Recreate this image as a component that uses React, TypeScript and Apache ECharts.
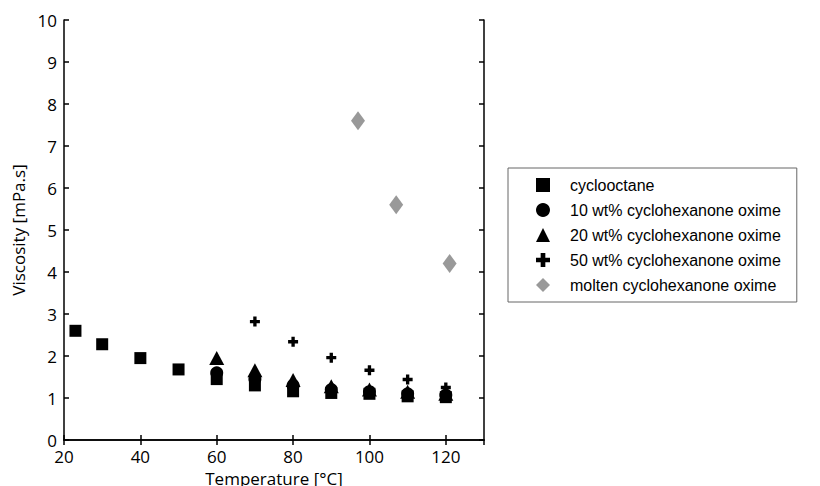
import React, { useEffect, useRef } from "react";
import * as echarts from "echarts";

const seriesNames = [
  "cyclooctane",
  "10 wt% cyclohexanone oxime",
  "20 wt% cyclohexanone oxime",
  "50 wt% cyclohexanone oxime",
  "molten cyclohexanone oxime",
];

const cyclooctane: [number, number][] = [
  [23, 2.6], [30, 2.28], [40, 1.95], [50, 1.68], [60, 1.45], [70, 1.3],
  [80, 1.16], [90, 1.12], [100, 1.1], [110, 1.04], [120, 1.02],
];
const wt10: [number, number][] = [
  [60, 1.6], [70, 1.45], [80, 1.3], [90, 1.2], [100, 1.15], [110, 1.1], [120, 1.07],
];
const wt20: [number, number][] = [
  [60, 1.95], [70, 1.66], [80, 1.43], [90, 1.28], [100, 1.2], [110, 1.15], [120, 1.1],
];
const wt50: [number, number][] = [
  [70, 2.82], [80, 2.34], [90, 1.96], [100, 1.66], [110, 1.44], [120, 1.25],
];
const molten: [number, number][] = [
  [97, 7.6], [107, 5.6], [121, 4.2],
];

const PLUS = "path://M3,0H6V3H9V6H6V9H3V6H0V3H3Z";

export default function App() {
  const ref = useRef<HTMLDivElement>(null);
  useEffect(() => {
    if (!ref.current) return;
    const chart = echarts.init(ref.current, null, { renderer: "svg" });
    const tickFont = { fontFamily: "Open Sans", fontSize: 17, color: "#000" };
    const axisLine = { show: true, lineStyle: { color: "#000", width: 1.5 } };
    const axisTick = { show: true, inside: true, length: 5, lineStyle: { color: "#000", width: 1.5 } };
    const solid = (c: string) => ({ color: c, opacity: 1 });
    chart.setOption({
      animation: false,
      backgroundColor: "#fff",
      grid: { left: 64, right: 336, top: 20, bottom: 46, outerBoundsMode: "none", containLabel: false },
      legend: {
        orient: "vertical",
        left: 508,
        top: 168,
        itemWidth: 14,
        itemHeight: 14,
        itemGap: 9,
        padding: [9, 16, 9, 28],
        borderColor: "#666",
        borderWidth: 1,
        textStyle: { fontFamily: "Liberation Sans", fontSize: 16, color: "#000", padding: [0, 0, 0, 15] },
        data: seriesNames,
      },
      xAxis: [
        {
          type: "value", min: 20, max: 130, interval: 20,
          name: "Temperature [°C]", nameLocation: "middle", nameGap: 23,
          nameTextStyle: { fontFamily: "Open Sans", fontSize: 17, color: "#000" },
          axisLine, axisTick, axisLabel: { ...tickFont, margin: 8, showMaxLabel: false }, splitLine: { show: false },
        },
        {
          type: "value", min: 20, max: 130, interval: 20, position: "top",
          axisLine, axisTick, axisLabel: { show: false }, splitLine: { show: false },
        },
      ],
      yAxis: [
        {
          type: "value", min: 0, max: 10, interval: 1,
          name: "Viscosity [mPa.s]", nameLocation: "middle", nameGap: 36,
          nameTextStyle: { fontFamily: "Open Sans", fontSize: 17, color: "#000" },
          axisLine, axisTick, axisLabel: { ...tickFont, margin: 7 }, splitLine: { show: false },
        },
        {
          type: "value", min: 0, max: 10, interval: 1, position: "right",
          axisLine, axisTick, axisLabel: { show: false }, splitLine: { show: false },
        },
      ],
      series: [
        { name: seriesNames[0], type: "scatter", data: cyclooctane, symbol: "rect", symbolSize: 12, itemStyle: solid("#000") },
        { name: seriesNames[1], type: "scatter", data: wt10, symbol: "circle", symbolSize: 13, itemStyle: solid("#000") },
        { name: seriesNames[2], type: "scatter", data: wt20, symbol: "triangle", symbolSize: [15, 14], itemStyle: solid("#000") },
        { name: seriesNames[3], type: "scatter", data: wt50, symbol: PLUS, symbolSize: 10, itemStyle: solid("#000") },
        { name: seriesNames[4], type: "scatter", data: molten, symbol: "diamond", symbolSize: [14, 19], itemStyle: solid("#999") },
      ],
    });
    return () => chart.dispose();
  }, []);
  return <div ref={ref} style={{ width: 820, height: 486, position: "absolute", left: 0, top: 0 }} />;
}
